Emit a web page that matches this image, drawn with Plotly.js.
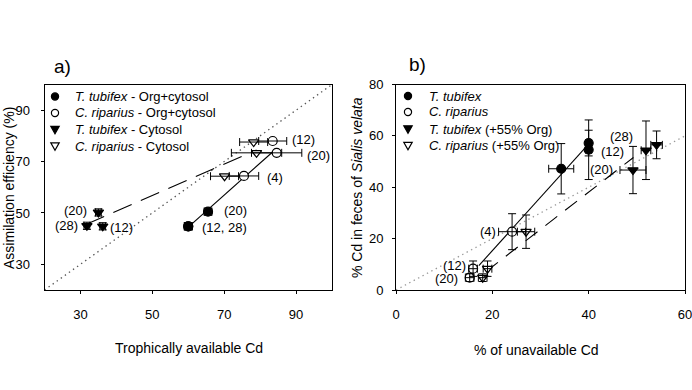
<!DOCTYPE html>
<html>
<head>
<meta charset="utf-8">
<script src="https://cdn.plot.ly/plotly-3.0.1.min.js"></script>
<style>
  html, body { margin: 0; padding: 0; background: #fff; }
  #chart { width: 692px; height: 390px; }
</style>
</head>
<body>
<div id="chart"></div>
<script>
// ---------- Panel a: assimilation efficiency vs trophically available Cd ----------
const aTtOrgX = [65.5, 60.0, 60.0];      // T. tubifex - Org+cytosol (days 20, 12, 28)
const aTtOrgY = [50.5, 44.8, 44.8];
const aTtOrgXErr = [1.1, 1.1, 1.1];
const aTtOrgYErr = [1.4, 1.4, 1.4];

const aCrOrgX = [83.5, 84.6, 75.5];      // C. riparius - Org+cytosol (days 12, 20, 4)
const aCrOrgY = [78.0, 73.4, 64.4];
const aCrOrgXErr = [3.9, 7.0, 4.1];

const aTtCytX = [35.0, 31.8, 36.2];      // T. tubifex - Cytosol (days 20, 28, 12)
const aTtCytY = [50.2, 45.0, 44.8];
const aTtCytXErr = [0.8, 0.8, 0.8];
const aTtCytYErr = [1.4, 1.4, 1.4];

const aCrCytX = [78.2, 79.0, 70.1];      // C. riparius - Cytosol (days 12, 20, 4)
const aCrCytY = [77.6, 73.4, 64.3];
const aCrCytXErr = [3.9, 7.0, 3.9];

const aOrgFitX = [60.0, 84.5];
const aOrgFitY = [44.5, 75.0];
const aCytFitX = [31.5, 79.0];
const aCytFitY = [45.5, 74.5];
const aUnityX = [20, 100];
const aUnityY = [20, 100];

const aLabelText = ['(20)', '(28)', '(12)', '(20)', '(12, 28)', '(12)', '(20)', '(4)'];
const aLabelX = [28.6, 26.1, 41.5, 73.2, 70.1, 92.2, 96.2, 84.1];
const aLabelY = [51.1, 45.0, 44.4, 50.8, 44.4, 78.4, 72.5, 63.9];

const aTicks = [30, 50, 70, 90];

// ---------- Panel b: % Cd in feces vs % unavailable Cd ----------
const bTtX = [34.3, 40.0, 40.0];         // T. tubifex
const bTtY = [47.2, 57.2, 54.6];
const bTtXErr = [2.6, 0.6, 0.6];
const bTtYErr = [9.8, 5.0, 11.6];

const bCrX = [24.1, 16.0, 15.3];         // C. riparius (days 4, 12, 20)
const bCrY = [22.7, 8.3, 4.8];
const bCrXErr = [2.8, 0.9, 0.9];
const bCrYErr = [7.0, 3.0, 1.5];

const bTt55X = [49.2, 51.9, 54.1];       // T. tubifex (+55% Org)
const bTt55Y = [46.7, 54.4, 56.5];
const bTt55XErr = [2.7, 1.0, 1.2];
const bTt55YErr = [9.2, 11.4, 5.4];

const bCr55X = [27.0, 19.0, 18.0];       // C. riparius (+55% Org)
const bCr55Y = [22.7, 8.3, 4.8];
const bCr55XErr = [1.8, 0.9, 0.9];
const bCr55YErr = [6.5, 3.0, 1.5];

const bFitX = [17.2, 40.3];
const bFitY = [9.5, 57.5];
const b55FitX = [18.7, 49.3];
const b55FitY = [7.2, 51.6];
const bUnityX = [0, 60];
const bUnityY = [0, 60];

const bLabelText = ['(28)', '(12)', '(20)', '(4)', '(12)', '(20)'];
const bLabelX = [46.9, 45.0, 42.7, 19.2, 12.1, 10.4];
const bLabelY = [59.6, 54.0, 47.0, 22.7, 9.5, 4.6];

const bXTicks = [0, 20, 40, 60];
const bYTicks = [0, 20, 40, 60, 80];

const aLegend = [
  '<i>T. tubifex</i> - Org+cytosol',
  '<i>C. riparius</i> - Org+cytosol',
  '<i>T. tubifex</i> - Cytosol',
  '<i>C. riparius</i> - Cytosol'
];
const bLegend = [
  '<i>T. tubifex</i>',
  '<i>C. riparius</i>',
  '<i>T. tubifex</i> (+55% Org)',
  '<i>C. riparius</i> (+55% Org)'
];

// ---------- drawing ----------
const W = 692, H = 390;
const FONT = 'Liberation Sans, Arial, Helvetica, sans-serif';
const px = v => v / W;               // horizontal pixel -> paper
const py = v => (H - v) / H;         // vertical pixel (from top) -> paper

function errBar(arr) {
  return { type: 'data', array: arr, visible: true, color: '#000', thickness: 1, width: 4 };
}
function pts(x, y, xe, ye, symbol, axes) {
  return {
    x: x, y: y, type: 'scatter', mode: 'markers', xaxis: axes[0], yaxis: axes[1],
    marker: { symbol: symbol, size: 9, color: '#000', line: { color: '#000', width: 1.2 } },
    error_x: errBar(xe),
    error_y: ye ? errBar(ye) : { visible: false },
    showlegend: false, hoverinfo: 'skip'
  };
}
// white disc/triangle under an open symbol so crossing lines do not show through
function fillUnder(x, y, symbol, axes) {
  return { x: x, y: y, type: 'scatter', mode: 'markers', xaxis: axes[0], yaxis: axes[1],
           marker: { symbol: symbol, size: 8, color: '#fff' }, showlegend: false, hoverinfo: 'skip' };
}
function line(x, y, dash, color, axes, width) {
  return { x: x, y: y, type: 'scatter', mode: 'lines', xaxis: axes[0], yaxis: axes[1],
           line: { color: color, dash: dash, width: width || 1.1 }, showlegend: false, hoverinfo: 'skip' };
}

const A = ['x', 'y'], B = ['x2', 'y2'];
const traces = [
  line(aUnityX, aUnityY, '1.4px,3.6px', '#555', A, 1.3),
  line(aOrgFitX, aOrgFitY, 'solid', '#000', A),
  line(aCytFitX, aCytFitY, '20px,10px', '#000', A),
  fillUnder(aCrCytX, aCrCytY, 'triangle-down', A),
  pts(aCrCytX, aCrCytY, aCrCytXErr, null, 'triangle-down-open', A),
  fillUnder(aCrOrgX, aCrOrgY, 'circle', A),
  pts(aCrOrgX, aCrOrgY, aCrOrgXErr, null, 'circle-open', A),
  pts(aTtCytX, aTtCytY, aTtCytXErr, aTtCytYErr, 'triangle-down', A),
  pts(aTtOrgX, aTtOrgY, aTtOrgXErr, aTtOrgYErr, 'circle', A),

  line(bUnityX, bUnityY, '1.4px,3.6px', '#999', B, 1.3),
  line(bFitX, bFitY, 'solid', '#000', B),
  line(b55FitX, b55FitY, '15px,10px', '#000', B),
  fillUnder(bCr55X, bCr55Y, 'triangle-down', B),
  pts(bCr55X, bCr55Y, bCr55XErr, bCr55YErr, 'triangle-down-open', B),
  fillUnder(bCrX, bCrY, 'circle', B),
  pts(bCrX, bCrY, bCrXErr, bCrYErr, 'circle-open', B),
  pts(bTt55X, bTt55Y, bTt55XErr, bTt55YErr, 'triangle-down', B),
  pts(bTtX, bTtY, bTtXErr, bTtYErr, 'circle', B)
];

const axisBase = {
  showgrid: false, zeroline: false, showline: true, mirror: true,
  linecolor: '#000', linewidth: 1, ticks: 'outside', ticklen: 3, tickcolor: '#000',
  tickfont: { family: FONT, size: 13, color: '#000' }, fixedrange: true,
  ticklabeloverflow: 'allow'
};

const yTop = 84.5, yBot = 290;
const layout = {
  width: W, height: H,
  margin: { l: 0, r: 0, t: 0, b: 0 },
  paper_bgcolor: '#fff', plot_bgcolor: '#fff',
  showlegend: false,
  xaxis: Object.assign({}, axisBase, { domain: [px(44.5), px(332)], range: [20, 100],
    tickmode: 'array', tickvals: aTicks, anchor: 'y', ticklabelstandoff: 9 }),
  yaxis: Object.assign({}, axisBase, { domain: [py(yBot), py(yTop)], range: [20, 100],
    tickmode: 'array', tickvals: aTicks, anchor: 'x', ticklabelstandoff: 8 }),
  xaxis2: Object.assign({}, axisBase, { domain: [px(396), px(685)], range: [0, 60],
    tickmode: 'array', tickvals: bXTicks, anchor: 'y2', ticklabelstandoff: 9 }),
  yaxis2: Object.assign({}, axisBase, { domain: [py(yBot), py(yTop)], range: [0, 80],
    tickmode: 'array', tickvals: bYTicks, anchor: 'x2', ticklabelstandoff: 6 }),
  annotations: [],
  shapes: []
};

const textFont = { family: FONT, size: 13, color: '#000' };
function note(text, x, y, xref, yref, opts) {
  return Object.assign({ text: text, x: x, y: y, xref: xref, yref: yref, showarrow: false,
    font: textFont, xanchor: 'center', yanchor: 'middle' }, opts || {});
}

aLabelText.forEach((t, i) => layout.annotations.push(note(t, aLabelX[i], aLabelY[i], 'x', 'y')));
bLabelText.forEach((t, i) => layout.annotations.push(note(t, bLabelX[i], bLabelY[i], 'x2', 'y2')));

// panel letters
layout.annotations.push(note('a)', px(62), py(67), 'paper', 'paper', { font: { family: FONT, size: 19, color: '#000' } }));
layout.annotations.push(note('b)', px(418), py(65), 'paper', 'paper', { font: { family: FONT, size: 19, color: '#000' } }));

// axis titles
const titleFont = { family: FONT, size: 14, color: '#000' };
layout.annotations.push(note('Trophically available Cd', px(188.5), py(348), 'paper', 'paper', { font: titleFont }));
layout.annotations.push(note('% of unavailable Cd', px(536), py(350), 'paper', 'paper', { font: titleFont }));
layout.annotations.push(note('Assimilation efficiency (%)', px(9), py(188), 'paper', 'paper', { font: titleFont, textangle: -90 }));
layout.annotations.push(note('% Cd in feces of <i>Sialis velata</i>', px(357), py(188), 'paper', 'paper', { font: titleFont, textangle: -90 }));

// hand-placed legends
const symbols = ['filled-circle', 'open-circle', 'filled-tri', 'open-tri'];
function legendSymbol(kind, cx, cy) {
  const base = { xref: 'paper', yref: 'paper', xsizemode: 'pixel', ysizemode: 'pixel',
                 xanchor: px(cx), yanchor: py(cy), line: { color: '#000', width: 1.2 } };
  const filled = kind.indexOf('filled') === 0;
  if (kind.indexOf('circle') >= 0) {
    return Object.assign(base, { type: 'circle', x0: -3.6, x1: 3.6, y0: -3.6, y1: 3.6,
                                 fillcolor: filled ? '#000' : '#fff' });
  }
  return Object.assign(base, { type: 'path', path: 'M-4.2,3.2 L4.2,3.2 L0,-4.2 Z',
                               fillcolor: filled ? '#000' : '#fff' });
}
const legA = { symX: 55, textX: 73, rows: [96.5, 113, 129.5, 146] };
const legB = { symX: 408, textX: 427, rows: [96, 112, 129, 145.5] };
aLegend.forEach((t, i) => {
  layout.shapes.push(legendSymbol(symbols[i], legA.symX, legA.rows[i]));
  layout.annotations.push(note(t, px(legA.textX), py(legA.rows[i]), 'paper', 'paper', { xanchor: 'left' }));
});
bLegend.forEach((t, i) => {
  layout.shapes.push(legendSymbol(symbols[i], legB.symX, legB.rows[i]));
  layout.annotations.push(note(t, px(legB.textX), py(legB.rows[i]), 'paper', 'paper', { xanchor: 'left' }));
});

Plotly.newPlot('chart', traces, layout, { displayModeBar: false, staticPlot: true });
</script>
</body>
</html>
